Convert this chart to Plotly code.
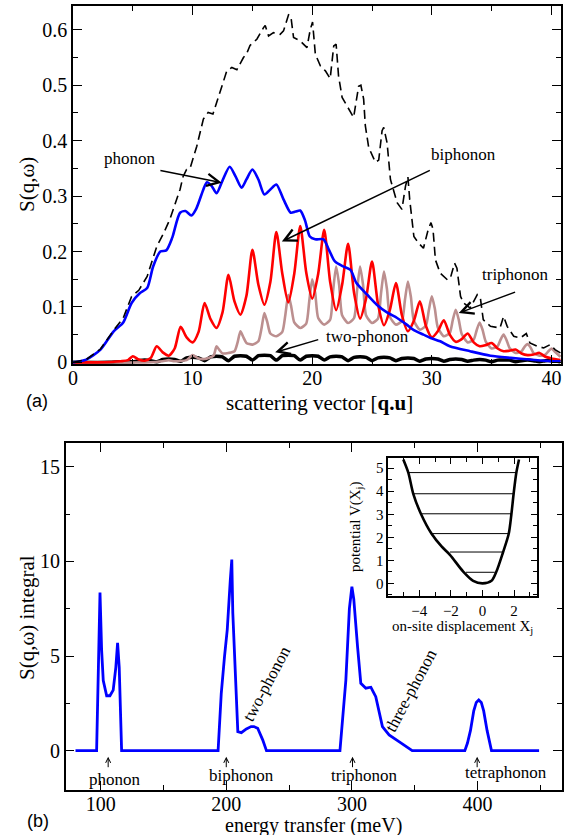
import plotly.graph_objects as go

W, H = 570, 835

# ---------------- Panel (a) data ----------------
total_q = [0, 1.1, 2.3, 3.4, 4.2, 4.9, 5.5, 6.2, 7.0, 7.6, 8.1, 8.95, 9.2, 9.5, 9.8, 10.35, 10.9, 11.3,
           11.7, 12.3, 12.86, 13.28, 13.7, 14.25, 14.5, 14.8, 15.37, 15.93, 16.07, 16.35, 16.76, 17.32,
           17.6, 18.02, 18.21, 18.44, 19.0, 19.56, 19.84, 20.03, 20.26, 20.68, 21.1, 21.5, 21.8, 22.0,
           22.2, 22.5, 23.04, 23.46, 23.88, 24.07, 24.3, 24.44, 24.72, 25.28, 25.56, 25.84, 25.98, 26.26,
           26.54, 27.1, 27.5, 27.8, 28.0, 28.15, 28.5, 28.9, 29.3, 29.7, 29.93, 30.1, 30.3, 30.7, 31.3,
           31.55, 31.9, 32.1, 32.4, 32.66, 33.2, 33.8, 34.06, 34.3, 34.9, 35.7, 36.0, 36.3, 36.85, 37.4,
           37.9, 38.2, 38.8, 39.35, 39.9, 40.3, 40.75]
total_s = [0, 0.005, 0.024, 0.058, 0.08, 0.119, 0.13, 0.155, 0.209, 0.234, 0.258, 0.312, 0.335, 0.348,
           0.351, 0.39, 0.439, 0.451, 0.448, 0.487, 0.526, 0.532, 0.528, 0.55, 0.556, 0.572, 0.583, 0.604,
           0.608, 0.589, 0.595, 0.592, 0.598, 0.627, 0.625, 0.586, 0.58, 0.568, 0.601, 0.614, 0.556, 0.535,
           0.526, 0.512, 0.571, 0.574, 0.517, 0.478, 0.457, 0.442, 0.498, 0.5, 0.475, 0.427, 0.388, 0.361,
           0.365, 0.418, 0.424, 0.396, 0.33, 0.288, 0.276, 0.318, 0.335, 0.294, 0.227, 0.215, 0.206, 0.24,
           0.252, 0.24, 0.185, 0.161, 0.149, 0.152, 0.179, 0.17, 0.119, 0.107, 0.098, 0.122, 0.116, 0.077,
           0.065, 0.062, 0.083, 0.065, 0.047, 0.044, 0.052, 0.035, 0.029, 0.026, 0.032, 0.023, 0.017]

phonon_q = [0, 1.1, 2.3, 3.4, 4.2, 4.9, 5.6, 6.2, 6.7, 7.3, 7.8, 8.3, 8.95, 9.4, 9.9, 10.3, 10.9, 11.2,
            11.6, 12.0, 12.5, 13.1, 13.6, 14.1, 14.5, 15.0, 15.5, 16.0, 16.5, 17.0, 17.6, 18.2, 18.6, 19.0,
            19.4, 19.8, 20.25, 20.95, 21.4, 21.9, 22.6, 23.2, 23.7, 24.6, 25.4, 26.25, 27.1, 27.9, 28.5,
            29.3, 29.9, 30.7, 31.5, 33.2, 34.9, 36.6, 38.2, 39.9, 40.75]
phonon_s = [0, 0.005, 0.023, 0.056, 0.072, 0.107, 0.125, 0.134, 0.173, 0.2, 0.202, 0.225, 0.27, 0.273,
            0.265, 0.277, 0.312, 0.325, 0.318, 0.305, 0.328, 0.353, 0.335, 0.315, 0.33, 0.348, 0.33, 0.303,
            0.312, 0.321, 0.294, 0.27, 0.272, 0.274, 0.256, 0.227, 0.222, 0.222, 0.203, 0.182, 0.173, 0.167,
            0.143, 0.122, 0.104, 0.09, 0.08, 0.068, 0.058, 0.05, 0.044, 0.038, 0.029, 0.02, 0.012, 0.008,
            0.005, 0.002, 0.002]

biphonon_q = [0, 2, 4, 4.6, 5, 5.5, 6, 6.5, 7, 7.5, 8, 8.5, 9, 9.5, 10, 10.5, 11, 11.5, 12, 12.5, 13, 13.5,
              14, 14.5, 15, 15.5, 16, 16.5, 17, 17.5, 18, 18.5, 19, 19.5, 20, 20.5, 21, 21.5, 22, 22.5, 23,
              23.5, 24, 24.5, 25, 25.5, 26, 26.5, 27, 27.5, 28, 28.5, 29, 29.5, 30, 30.5, 31, 31.5, 32, 32.5,
              33, 33.5, 34, 34.5, 35, 35.5, 36, 36.5, 37, 37.5, 38, 38.5, 39, 39.5, 40, 40.75]
biphonon_s = [0, 0, 0.002, 0.004, 0.011, 0.005, 0.003, 0.008, 0.029, 0.018, 0.012, 0.025, 0.064, 0.045,
              0.036, 0.055, 0.107, 0.078, 0.062, 0.09, 0.158, 0.11, 0.086, 0.12, 0.203, 0.14, 0.104, 0.145,
              0.235, 0.16, 0.108, 0.16, 0.246, 0.162, 0.115, 0.16, 0.239, 0.145, 0.094, 0.14, 0.214, 0.125,
              0.079, 0.115, 0.182, 0.105, 0.067, 0.095, 0.143, 0.085, 0.056, 0.075, 0.11, 0.066, 0.045,
              0.056, 0.076, 0.05, 0.037, 0.042, 0.052, 0.036, 0.029, 0.031, 0.035, 0.025, 0.02, 0.021, 0.023,
              0.016, 0.013, 0.014, 0.017, 0.01, 0.007, 0.004]

triphonon_q = [0, 6, 7.5, 8, 8.5, 9.5, 10, 10.5, 11, 11.75, 12, 12.25, 12.5, 13, 13.5, 13.75, 14, 14.25,
               14.5, 15, 15.5, 15.75, 16, 16.25, 16.5, 17, 17.5, 17.75, 18, 18.25, 18.5, 19, 19.5, 19.75,
               20, 20.25, 20.5, 21, 21.5, 21.75, 22, 22.25, 22.5, 23, 23.5, 23.75, 24, 24.25, 24.5, 25,
               25.5, 25.75, 26, 26.25, 26.5, 27, 27.5, 27.75, 28, 28.25, 28.5, 29, 29.5, 29.75, 30, 30.25,
               30.5, 31, 31.5, 31.75, 32, 32.25, 32.5, 33, 33.5, 33.75, 34, 34.25, 34.5, 35, 35.5, 35.75,
               36, 36.25, 36.5, 37, 37.5, 37.75, 38, 38.25, 38.5, 39, 39.5, 39.75, 40, 40.25, 40.75]
triphonon_s = [0, 0, 0.002, 0.004, 0.002, 0.004, 0.013, 0.007, 0.006, 0.012, 0.029, 0.022, 0.016, 0.017,
               0.02, 0.035, 0.056, 0.045, 0.035, 0.032, 0.038, 0.06, 0.089, 0.072, 0.052, 0.047, 0.055,
               0.085, 0.122, 0.1, 0.072, 0.062, 0.07, 0.11, 0.15, 0.125, 0.08, 0.068, 0.077, 0.13, 0.173,
               0.14, 0.085, 0.071, 0.08, 0.13, 0.173, 0.14, 0.085, 0.071, 0.079, 0.124, 0.164, 0.132, 0.082,
               0.068, 0.075, 0.112, 0.146, 0.118, 0.075, 0.059, 0.066, 0.094, 0.119, 0.097, 0.063, 0.047,
               0.053, 0.076, 0.095, 0.077, 0.051, 0.036, 0.041, 0.058, 0.072, 0.058, 0.038, 0.025, 0.029,
               0.041, 0.05, 0.04, 0.026, 0.017, 0.02, 0.028, 0.033, 0.027, 0.017, 0.012, 0.014, 0.02, 0.025,
               0.02, 0.01]

twophonon_q = [0, 3, 4, 5, 5.5, 6, 6.5, 7, 7.5, 8, 8.5, 9, 9.5, 10, 10.5, 11, 11.5, 12, 12.5, 13, 13.5,
               14, 14.5, 15, 15.5, 16, 16.5, 17, 17.5, 18, 18.5, 19, 19.5, 20, 20.5, 21, 21.5, 22, 22.5,
               23, 23.5, 24, 24.5, 25, 25.5, 26, 26.5, 27, 27.5, 28, 28.5, 29, 29.5, 30, 30.5, 31, 31.5,
               32, 32.5, 33, 33.5, 34, 34.5, 35, 35.5, 36, 36.5, 37, 37.5, 38, 38.5, 39, 39.5, 40, 40.5,
               40.75]
twophonon_s = [0, 0, 0.001, 0.001, 0.003, 0.004, 0.003, 0.001, 0.005, 0.006, 0.005, 0.002, 0.008, 0.009,
               0.008, 0.003, 0.01, 0.011, 0.01, 0.003, 0.011, 0.012, 0.011, 0.004, 0.012, 0.013, 0.012,
               0.004, 0.012, 0.013, 0.012, 0.004, 0.011, 0.012, 0.011, 0.004, 0.01, 0.011, 0.01, 0.003,
               0.009, 0.01, 0.009, 0.003, 0.008, 0.009, 0.008, 0.003, 0.007, 0.008, 0.007, 0.002, 0.006,
               0.007, 0.006, 0.002, 0.005, 0.006, 0.005, 0.002, 0.004, 0.005, 0.004, 0.001, 0.004, 0.004,
               0.004, 0.001, 0.003, 0.004, 0.003, 0.001, 0.003, 0.003, 0.002, 0.001]

# ---------------- Panel (b) data ----------------
energy_mev = [80, 96.8, 99.5, 100.8, 102.1, 104.8, 107.4, 110, 112.1, 113.5, 114.8, 116.7, 193.5, 196,
              198.6, 200.8, 203.2, 204.4, 205.2, 207.4, 209.2, 212, 216, 219.8, 222, 225, 229, 232, 290.5,
              295.2, 298, 300, 301.5, 304.5, 307.1, 311.1, 315.1, 317, 319, 324.3, 329.6, 337.5, 348,
              389.9, 392, 394.4, 397, 399, 401, 403, 404.9, 407.6, 409.5, 411.1, 449]
integral_s = [0, 0, 8.35, 5.3, 3.7, 2.9, 2.9, 3.2, 4.4, 5.7, 4.4, 0, 0, 3.0, 4.97, 6.4, 9.0, 10.1, 7.3,
              3.7, 1.0, 0.95, 1.15, 1.27, 1.27, 1.18, 0.57, 0, 0, 3.73, 7.5, 8.66, 8.0, 5.5, 3.56, 3.3,
              3.35, 3.1, 2.85, 1.27, 0.83, 0.48, 0, 0, 0.4, 1.07, 2.1, 2.55, 2.68, 2.55, 2.1, 1.07, 0.4,
              0, 0]

peak_labels = ["phonon", "biphonon", "triphonon", "tetraphonon"]
peak_arrow_e = [106, 200, 300.5, 399.7]
peak_label_e = [111.3, 212.5, 309.8, 422.7]
peak_label_s = [-1.51, -1.32, -1.32, -1.16]

# ---------------- Inset data ----------------
pot_x = [-5.01, -4.69, -4.38, -3.89, -3.22, -2.59, -2.06, -1.22, -0.59, 0, 0.57, 0.88, 1.3, 1.66, 1.83,
         1.97, 2.14, 2.31]
pot_v = [5.38, 4.8, 3.89, 3.01, 2.15, 1.6, 1.24, 0.51, 0.11, 0, 0.11, 0.51, 1.35, 2.15, 3.01, 3.89,
         4.8, 5.38]
level_v = [0.48, 1.36, 2.16, 3.02, 3.89, 4.81]
level_left = [-1.05, -2.06, -3.22, -3.85, -4.38, -4.69]
level_right = [0.78, 1.3, 1.66, 1.83, 1.97, 2.14]

SERIF = "Liberation Serif"
SANS = "Liberation Sans"


def dom_x(a, b):
    return [a / W, b / W]


def dom_y(top, bottom):
    return [1 - bottom / H, 1 - top / H]


fig = go.Figure()

# panel a traces
fig.add_trace(go.Scatter(x=twophonon_q, y=twophonon_s, mode="lines",
                         line=dict(color="black", width=3.5, shape="spline", smoothing=0.6),
                         xaxis="x", yaxis="y", showlegend=False))
fig.add_trace(go.Scatter(x=triphonon_q, y=triphonon_s, mode="lines",
                         line=dict(color="#bc8f8f", width=2.6, shape="spline", smoothing=0.6),
                         xaxis="x", yaxis="y", showlegend=False))
fig.add_trace(go.Scatter(x=biphonon_q, y=biphonon_s, mode="lines",
                         line=dict(color="#ff0000", width=2.6, shape="spline", smoothing=0.7),
                         xaxis="x", yaxis="y", showlegend=False))
fig.add_trace(go.Scatter(x=phonon_q, y=phonon_s, mode="lines",
                         line=dict(color="#0000ff", width=2.6, shape="spline", smoothing=0.7),
                         xaxis="x", yaxis="y", showlegend=False))
fig.add_trace(go.Scatter(x=total_q, y=total_s, mode="lines",
                         line=dict(color="black", width=1.6, dash="9px,5px"),
                         xaxis="x", yaxis="y", showlegend=False))

# panel b trace
fig.add_trace(go.Scatter(x=energy_mev, y=integral_s, mode="lines",
                         line=dict(color="#0000ff", width=2.8),
                         xaxis="x2", yaxis="y2", showlegend=False))

# inset traces
lvl_x, lvl_y = [], []
for v, l, r in zip(level_v, level_left, level_right):
    lvl_x += [l, r, None]
    lvl_y += [v, v, None]
fig.add_trace(go.Scatter(x=lvl_x, y=lvl_y, mode="lines", line=dict(color="black", width=1),
                         xaxis="x3", yaxis="y3", showlegend=False))
fig.add_trace(go.Scatter(x=pot_x, y=pot_v, mode="lines",
                         line=dict(color="black", width=2.6, shape="spline", smoothing=0.8),
                         xaxis="x3", yaxis="y3", showlegend=False))


def axis(size=20, tlen=9, mlen=5, mdt=None, **kw):
    d = dict(showline=True, linecolor="black", linewidth=1.5, mirror="allticks",
             ticks="inside", ticklen=tlen, tickwidth=1.3, tickcolor="black",
             showgrid=False, zeroline=False, automargin=False,
             tickfont=dict(family=SERIF, size=size, color="black"))
    d.update(kw)
    d["minor"] = dict(ticks="inside", ticklen=mlen, tickwidth=1.2, tickcolor="black",
                      showgrid=False, dtick=mdt)
    return d


fig.update_layout(
    template="none",
    width=W, height=H, margin=dict(l=0, r=0, t=0, b=0, pad=0, autoexpand=False),
    paper_bgcolor="white", plot_bgcolor="rgba(0,0,0,0)",
    font=dict(family=SERIF, color="black"),
    xaxis=axis(domain=dom_x(73, 561), range=[0, 40.8], tickvals=[0, 10, 20, 30, 40], mdt=5,
               anchor="y", ticklabelstandoff=-5),
    yaxis=axis(domain=dom_y(6, 364), range=[-0.003, 0.643],
               tickvals=[0, 0.1, 0.2, 0.3, 0.4, 0.5, 0.6],
               ticktext=["0", "0.1", "0.2", "0.3", "0.4", "0.5", "0.6"], mdt=0.05, anchor="x"),
    xaxis2=axis(domain=dom_x(65.7, 561.7), range=[72.2, 467], tickvals=[100, 200, 300, 400],
                mdt=50, anchor="y2", ticklabelstandoff=-5),
    yaxis2=axis(domain=dom_y(443.3, 790), range=[-2.08, 16.24], tickvals=[0, 5, 10, 15],
                mdt=2.5, anchor="x2"),
    xaxis3=axis(size=15, tlen=6, mlen=4, domain=dom_x(388.3, 536.7), range=[-5.96, 3.43],
                tickvals=[-4, -2, 0, 2], mdt=1, anchor="y3"),
    yaxis3=axis(size=15, tlen=6, mlen=4, domain=dom_y(458.3, 596), range=[-0.55, 5.43],
                tickvals=[0, 1, 2, 3, 4, 5], mdt=0.5, anchor="x3"),
)

ann = []


def paper_text(text, px, py, size=21, angle=0, family=SERIF):
    ann.append(dict(text=text, x=px / W, y=1 - py / H, xref="paper", yref="paper",
                    showarrow=False, textangle=angle, xanchor="center", yanchor="middle",
                    font=dict(family=family, size=size, color="black")))


# axis titles
paper_text("scattering vector [<b>q.u</b>]", 319, 403)
paper_text("S(q,ω)", 27, 185, angle=-90)
paper_text("(a)", 37, 401, size=18, family=SANS)
paper_text("energy transfer (meV)", 313, 825, size=20)
paper_text("S(q,ω) integral", 27, 618, angle=-90)
paper_text("(b)", 38, 821, size=18, family=SANS)
paper_text("potential V(X<sub>j</sub>)", 356, 527, size=15, angle=-90)
paper_text("on-site displacement X<sub>j</sub>", 462, 627, size=15)

# panel a labelled arrows
arrows_a = [
    ("phonon", (4.77, 0.367), (12.44, 0.324), (7.14, 0.347)),
    ("biphonon", (32.66, 0.375), (17.46, 0.218), (30.0, 0.348)),
    ("triphonon", (36.99, 0.158), (32.25, 0.089), (37.13, 0.128)),
    ("two-phonon", (24.58, 0.047), (16.9, 0.018), (20.67, 0.042)),
]
for txt, tpos, head, tail in arrows_a:
    ann.append(dict(text=txt, x=tpos[0], y=tpos[1], xref="x", yref="y", showarrow=False,
                    font=dict(family=SERIF, size=17, color="black")))
    ann.append(dict(text=" ", x=head[0], y=head[1], xref="x", yref="y", ax=tail[0], ay=tail[1],
                    axref="x", ayref="y", showarrow=True, arrowhead=5, arrowsize=1.6,
                    arrowwidth=1.5, arrowcolor="black", font=dict(size=2)))

# panel b peak labels
for txt, ea, el, sl in zip(peak_labels, peak_arrow_e, peak_label_e, peak_label_s):
    ann.append(dict(text=" ", x=ea, y=-0.32, xref="x2", yref="y2", ax=0, ay=13,
                    showarrow=True, arrowhead=5, arrowsize=1.0, arrowwidth=1.0,
                    arrowcolor="black", font=dict(size=2)))
    ann.append(dict(text=txt, x=el, y=sl, xref="x2", yref="y2", showarrow=False,
                    font=dict(family=SERIF, size=17, color="black")))

ann.append(dict(text="two-phonon", x=232.2, y=3.56, xref="x2", yref="y2", showarrow=False,
                textangle=-62, font=dict(family=SERIF, size=17, color="black")))
ann.append(dict(text="three-phonon", x=346.8, y=3.2, xref="x2", yref="y2", showarrow=False,
                textangle=-62, font=dict(family=SERIF, size=17, color="black")))

fig.update_layout(annotations=ann)

fig.write_html("out.html", config={"displayModeBar": False},
               post_script="document.body.style.margin='0px';")
